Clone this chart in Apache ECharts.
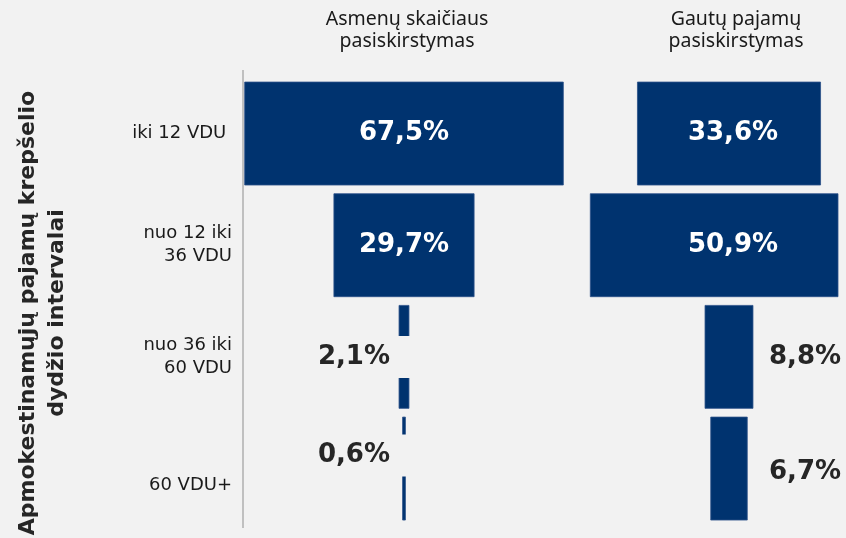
<!DOCTYPE html>
<html><head><meta charset="utf-8">
<script src="https://cdn.jsdelivr.net/npm/echarts@6/dist/echarts.min.js"></script>
<style>html,body{margin:0;padding:0;background:#f2f2f2}#c{width:846px;height:538px}</style>
</head><body><div id="c"></div>
<script>
// ---- data ----
const categories = ['iki 12 VDU ', 'nuo 12 iki\n36 VDU', 'nuo 36 iki\n60 VDU', '60 VDU+'];
const personsShare = [67.5, 29.7, 2.1, 0.6];
const incomeShare = [33.6, 50.9, 8.8, 6.7];
const panelTitles = ['Asmenų skaičiaus\npasiskirstymas', 'Gautų pajamų\npasiskirstymas'];
const axisTitle = 'Apmokestinamųjų pajamų krepšelio\ndydžio intervalai';

// ---- styles ----
const BG = '#f2f2f2';
const BAR = '#00336f';
const VALUE_FONT = 'bold 26px "DejaVu Sans"';
const panelStyle = [
  { insideDx: 0, outsideDx: 10, outsideAlign: 'right', outsideDy: [0, 0, 0, -13], cover: true },
  { insideDx: 4, outsideDx: 40, outsideAlign: 'left', outsideDy: [0, 0, 0, 4], cover: false }
];
const fmt = v => v.toFixed(1).replace('.', ',') + '%';

function makeRender(ps) {
  return function (params, api) {
    const v = api.value(0);
    const idx = api.value(1);
    const c = api.coord([0, idx]);
    const a = api.coord([-v / 2, idx]);
    const b = api.coord([v / 2, idx]);
    const h = api.size([0, 1])[1] * 0.922;
    const cs = params.coordSys;
    const r = echarts.graphic.clipRectByRect(
      { x: a[0], y: c[1] - h / 2, width: b[0] - a[0], height: h },
      { x: cs.x, y: cs.y, width: cs.width, height: cs.height });
    const children = [];
    if (r) children.push({ type: 'rect', shape: r, style: { fill: BAR, stroke: '#2c5189', lineWidth: 0.8 } });
    if (v > 20) {
      children.push({ type: 'text', x: c[0] + ps.insideDx, y: c[1],
        style: { text: fmt(v), fill: '#ffffff', font: VALUE_FONT, align: 'center', verticalAlign: 'middle' } });
    } else {
      const st = { text: fmt(v), fill: '#262626', font: VALUE_FONT, align: ps.outsideAlign, verticalAlign: 'middle', lineHeight: 28 };
      if (ps.cover) { st.backgroundColor = BG; st.padding = [7, 24, 7, 4]; }
      children.push({ type: 'text', x: c[0] + ps.outsideDx, y: c[1] + ps.outsideDy[idx], style: st });
    }
    return { type: 'group', children };
  };
}

const chart = echarts.init(document.getElementById('c'), null, { renderer: 'canvas' });
const gridTop = 77.7, gridH = 446.7;
chart.setOption({
  backgroundColor: BG,
  animation: false,
  grid: [
    { left: 243.5, width: 321, top: gridTop, height: gridH, outerBoundsMode: 'none', containLabel: false },
    { left: 581.85, width: 256.15, top: gridTop, height: gridH, outerBoundsMode: 'none', containLabel: false }
  ],
  xAxis: [
    { gridIndex: 0, type: 'value', min: -34, max: 34, show: false },
    { gridIndex: 1, type: 'value', min: -27, max: 20, show: false }
  ],
  yAxis: [
    { gridIndex: 0, type: 'category', data: categories, inverse: true,
      axisLine: { show: false }, axisTick: { show: false }, splitLine: { show: false },
      axisLabel: { show: true, margin: 11.5, color: '#1a1a1a', fontFamily: 'DejaVu Sans', fontSize: 18, lineHeight: 23, align: 'right',
        formatter: (val, i) => i === 3 ? '{low|' + val + '}' : val,
        rich: { low: { padding: [34, 0, 0, 0], fontFamily: 'DejaVu Sans', fontSize: 18, color: '#1a1a1a' } } } },
    { gridIndex: 1, type: 'category', data: categories, inverse: true, show: false }
  ],
  series: [
    { type: 'custom', xAxisIndex: 0, yAxisIndex: 0, renderItem: makeRender(panelStyle[0]),
      data: personsShare.map((v, i) => [v, i]) },
    { type: 'custom', xAxisIndex: 1, yAxisIndex: 1, renderItem: makeRender(panelStyle[1]),
      data: incomeShare.map((v, i) => [v, i]) }
  ],
  graphic: [
    { type: 'line', shape: { x1: 243, y1: 70, x2: 243, y2: 528 }, style: { stroke: '#c0c0c0', lineWidth: 2 } },
    { type: 'text', x: 407, y: 8, style: { text: panelTitles[0], font: '19.5px "Noto Sans"', lineHeight: 22, fill: '#1a1a1a', align: 'center', verticalAlign: 'top' } },
    { type: 'text', x: 736, y: 8, style: { text: panelTitles[1], font: '19.5px "Noto Sans"', lineHeight: 22, fill: '#1a1a1a', align: 'center', verticalAlign: 'top' } },
    { type: 'text', x: 43, y: 313, rotation: Math.PI / 2,
      style: { text: axisTitle, font: 'bold 22px "DejaVu Sans"', lineHeight: 29, fill: '#262626', align: 'center', verticalAlign: 'middle' } }
  ]
});
</script>
</body></html>
